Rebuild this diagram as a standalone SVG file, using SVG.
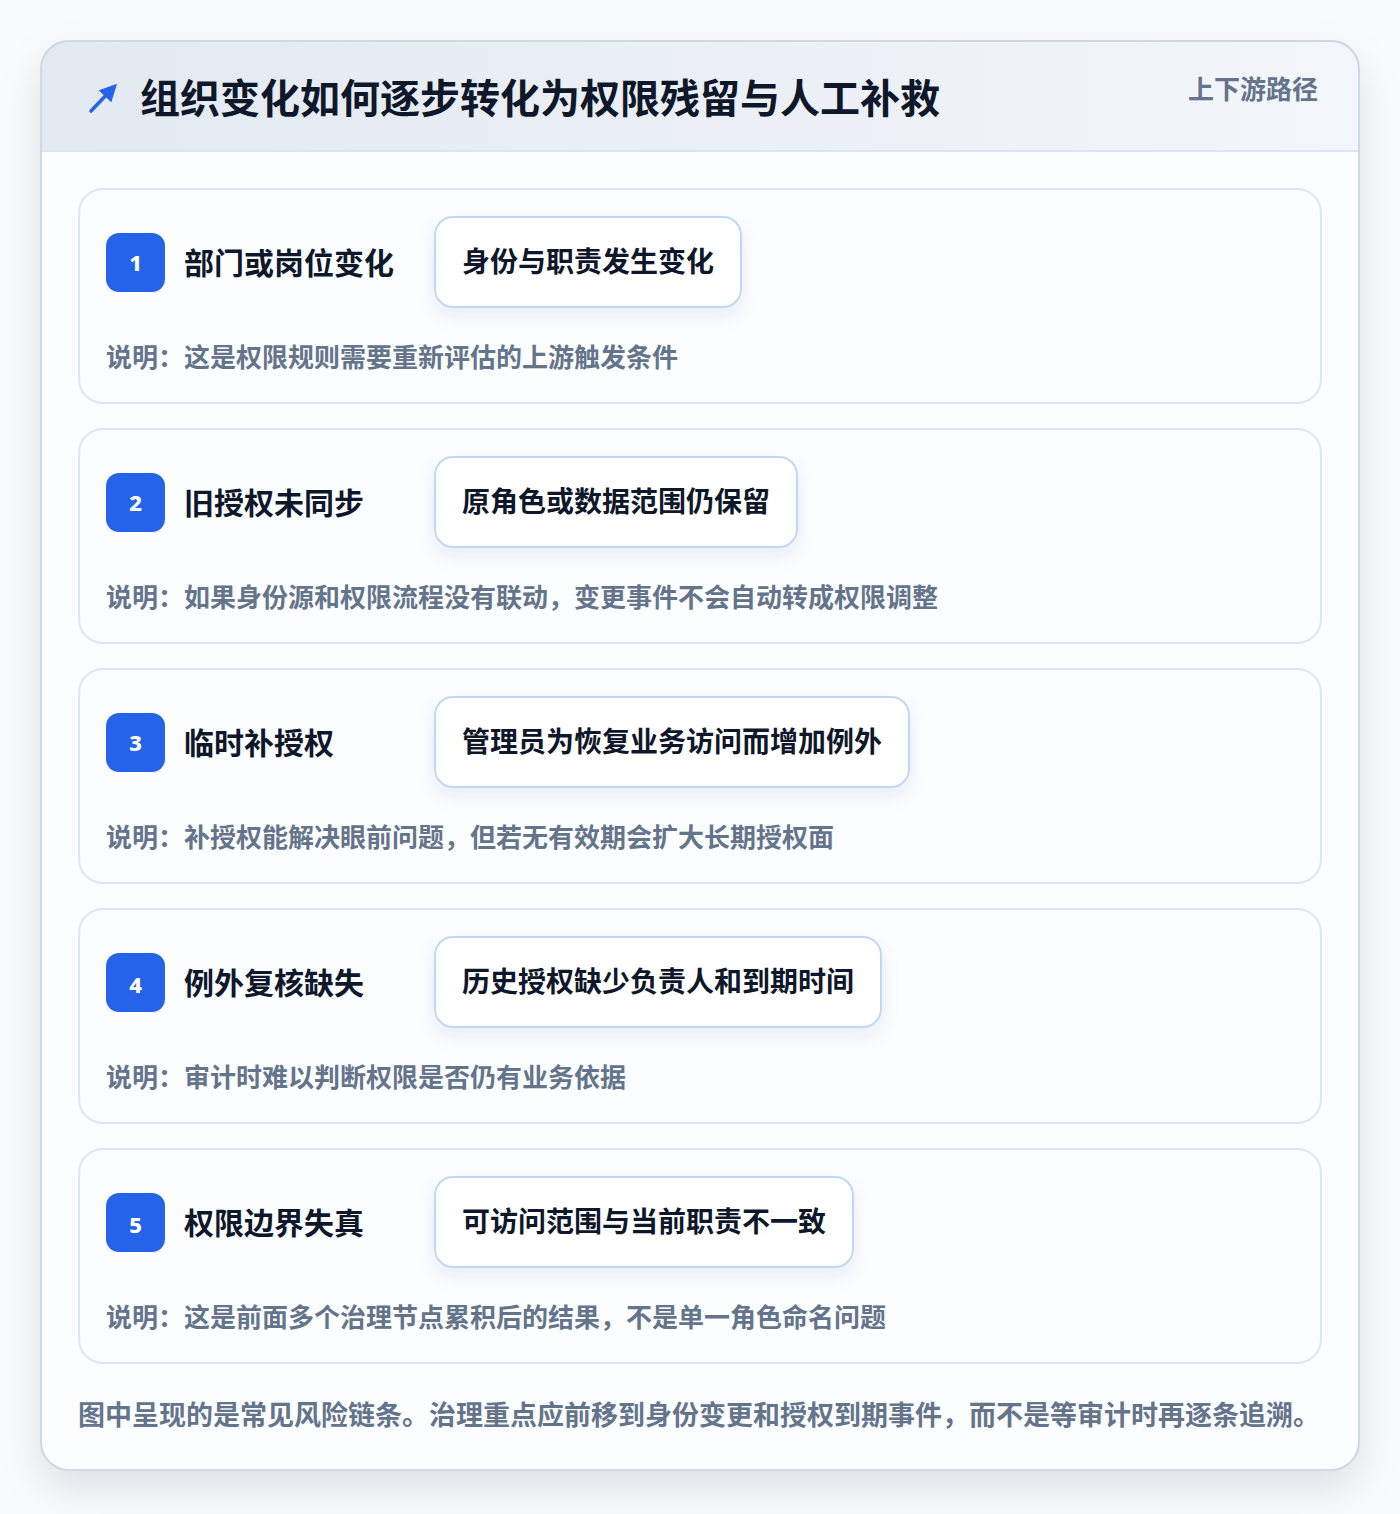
<svg xmlns="http://www.w3.org/2000/svg" width="1400" height="1514" viewBox="0 0 1400 1514">
<defs>
<linearGradient id="hdr" x1="0" y1="0" x2="1" y2="0">
<stop offset="0" stop-color="#e3e9f1"/>
<stop offset="1" stop-color="#f3f6fa"/>
</linearGradient>
<filter id="cardShadow" x="-10%" y="-10%" width="120%" height="120%">
<feDropShadow dx="0" dy="18" stdDeviation="20" flood-color="#0f172a" flood-opacity="0.10"/>
</filter>
<filter id="pillShadow" x="-20%" y="-40%" width="140%" height="180%">
<feDropShadow dx="0" dy="8" stdDeviation="9" flood-color="#1e3a8a" flood-opacity="0.08"/>
</filter>
<clipPath id="cardClip"><rect x="41" y="41" width="1318" height="1429" rx="28"/></clipPath>
<marker id="ah" viewBox="0 0 10 10" refX="5" refY="5" markerWidth="5" markerHeight="5" orient="auto"><path d="M0,0 L10,5 L0,10 z" fill="#2563eb"/></marker>
</defs>
<style>
text{font-family:"Noto Sans CJK SC","Noto Sans",sans-serif;font-weight:700}
.title{font-size:40px;fill:#0f172a}
.sub{font-size:26px;fill:#64748b}
.step{fill:#fcfdff;stroke:#dbe7f6;stroke-width:2}
.badge{fill:#2563eb}
.num{font-size:22px;fill:#ffffff;font-family:"Noto Sans","DejaVu Sans",sans-serif;font-weight:800}
.stitle{font-size:30px;fill:#0f172a}
.pill{fill:#ffffff;stroke:#bfd8f6;stroke-width:2}
.ptext{font-size:28px;fill:#0f172a}
.desc{font-size:26px;fill:#64748b}
.foot{font-size:27px;fill:#64748b}
</style>
<rect x="0" y="0" width="1400" height="1514" fill="#f9fafb"/>
<g id="card">
<rect x="41" y="41" width="1318" height="1429" rx="28" fill="#ffffff" filter="url(#cardShadow)"/>
<g clip-path="url(#cardClip)">
<rect x="41" y="41" width="1318" height="110" fill="url(#hdr)"/>
<rect x="41" y="151" width="1318" height="1319" fill="#fcfdfe"/>
<line x1="41" y1="151" x2="1359" y2="151" stroke="#dbe6f5" stroke-width="2"/>
</g>
<rect x="41" y="41" width="1318" height="1429" rx="28" fill="none" stroke="#cfd8e3" stroke-width="2"/>
</g>
<g id="header">
<line x1="91" y1="111" x2="111" y2="90" stroke="#2563eb" stroke-width="3.5" stroke-linecap="round" marker-end="url(#ah)"/>
<text class="title" x="140" y="113">组织变化如何逐步转化为权限残留与人工补救</text>
<text class="sub" x="1318" y="99" text-anchor="end">上下游路径</text>
</g>
<g id="step1">
<rect class="step" x="79" y="189" width="1242" height="214" rx="24"/>
<rect class="badge" x="106" y="233" width="59" height="59" rx="13"/>
<text class="num" x="135.5" y="271" text-anchor="middle">1</text>
<text class="stitle" x="184" y="274">部门或岗位变化</text>
<rect class="pill" x="435" y="217" width="306" height="90" rx="18" filter="url(#pillShadow)"/>
<text class="ptext" x="462" y="272">身份与职责发生变化</text>
<text class="desc" x="106" y="367">说明：这是权限规则需要重新评估的上游触发条件</text>
</g>
<g id="step2">
<rect class="step" x="79" y="429" width="1242" height="214" rx="24"/>
<rect class="badge" x="106" y="473" width="59" height="59" rx="13"/>
<text class="num" x="135.5" y="511" text-anchor="middle">2</text>
<text class="stitle" x="184" y="514">旧授权未同步</text>
<rect class="pill" x="435" y="457" width="362" height="90" rx="18" filter="url(#pillShadow)"/>
<text class="ptext" x="462" y="512">原角色或数据范围仍保留</text>
<text class="desc" x="106" y="607">说明：如果身份源和权限流程没有联动，变更事件不会自动转成权限调整</text>
</g>
<g id="step3">
<rect class="step" x="79" y="669" width="1242" height="214" rx="24"/>
<rect class="badge" x="106" y="713" width="59" height="59" rx="13"/>
<text class="num" x="135.5" y="751" text-anchor="middle">3</text>
<text class="stitle" x="184" y="754">临时补授权</text>
<rect class="pill" x="435" y="697" width="474" height="90" rx="18" filter="url(#pillShadow)"/>
<text class="ptext" x="462" y="752">管理员为恢复业务访问而增加例外</text>
<text class="desc" x="106" y="847">说明：补授权能解决眼前问题，但若无有效期会扩大长期授权面</text>
</g>
<g id="step4">
<rect class="step" x="79" y="909" width="1242" height="214" rx="24"/>
<rect class="badge" x="106" y="953" width="59" height="59" rx="13"/>
<text class="num" x="135.5" y="993" text-anchor="middle">4</text>
<text class="stitle" x="184" y="994">例外复核缺失</text>
<rect class="pill" x="435" y="937" width="446" height="90" rx="18" filter="url(#pillShadow)"/>
<text class="ptext" x="462" y="992">历史授权缺少负责人和到期时间</text>
<text class="desc" x="106" y="1087">说明：审计时难以判断权限是否仍有业务依据</text>
</g>
<g id="step5">
<rect class="step" x="79" y="1149" width="1242" height="214" rx="24"/>
<rect class="badge" x="106" y="1193" width="59" height="59" rx="13"/>
<text class="num" x="135.5" y="1233" text-anchor="middle">5</text>
<text class="stitle" x="184" y="1234">权限边界失真</text>
<rect class="pill" x="435" y="1177" width="418" height="90" rx="18" filter="url(#pillShadow)"/>
<text class="ptext" x="462" y="1232">可访问范围与当前职责不一致</text>
<text class="desc" x="106" y="1327">说明：这是前面多个治理节点累积后的结果，不是单一角色命名问题</text>
</g>
<g id="footer">
<text class="foot" x="78" y="1425">图中呈现的是常见风险链条。治理重点应前移到身份变更和授权到期事件，而不是等审计时再逐条追溯。</text>
</g>
<g id="connectors"></g>
</svg>
